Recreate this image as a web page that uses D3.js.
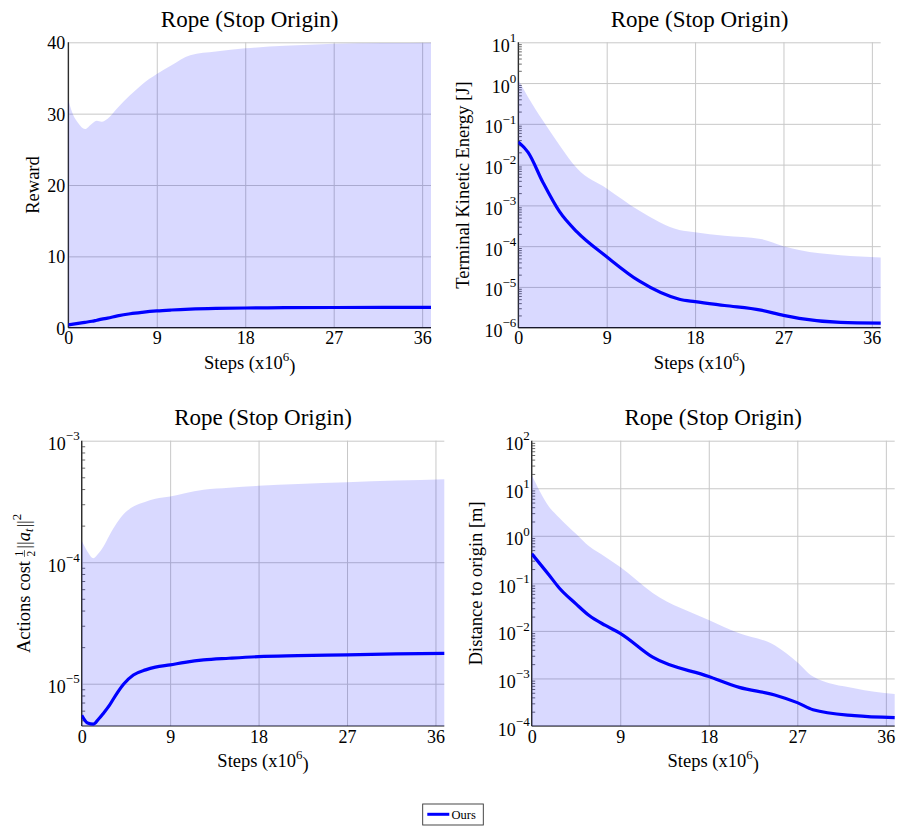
<!DOCTYPE html>
<html>
<head>
<meta charset="utf-8">
<script src="https://cdn.jsdelivr.net/npm/d3@7"></script>
<style>
  body { margin: 0; background: #fff; }
  svg { display: block; }
  text { font-family: "Liberation Serif", "Times New Roman", serif; fill: #000; }
</style>
</head>
<body>
<svg id="fig" width="899" height="828"></svg>
<script>
// ---- shared axis values ----
const xTicks = [0, 9, 18, 27, 36];
const xMax = 36.9;
const chartTitle = "Rope (Stop Origin)";
const seriesName = "Ours";

// ---- Reward ----
const rewardSteps = [0, 0.5, 1, 1.7, 2.4, 2.9, 3.4, 4, 5, 6.3, 7.5, 9, 10.5, 12.4, 15, 18, 22, 27, 32, 36.9];
const rewardMean  = [0.4, 0.5, 0.6, 0.75, 0.9, 1.05, 1.2, 1.35, 1.65, 1.95, 2.15, 2.35, 2.48, 2.6, 2.7, 2.76, 2.8, 2.83, 2.85, 2.86];
const rewardUpper = [31.9, 29.8, 28.7, 27.85, 28.6, 29.0, 28.87, 29.3, 30.8, 32.6, 34.1, 35.55, 36.8, 38.2, 38.7, 39.15, 39.5, 39.8, 39.9, 39.95];
const rewardLower = [0, 0, 0, 0, 0, 0, 0, 0, 0, 0, 0, 0, 0, 0, 0, 0, 0, 0, 0, 0];
const rewardTicks = [0, 10, 20, 30, 40];

// ---- Terminal kinetic energy ----
const keSteps = [0, 1, 2.5, 4.2, 6, 9, 12.3, 16.4, 18, 21, 24.7, 27, 28.6, 32.8, 36.9];
const keMean  = [0.036, 0.02, 0.0037, 7e-4, 2.2e-4, 5.5e-5, 1.4e-5, 5e-6, 4.35e-6, 3.5e-6, 2.7e-6, 2.0e-6, 1.7e-6, 1.35e-6, 1.3e-6];
const keUpper = [1.2, 0.45, 0.12, 0.03, 0.008, 0.0026, 7.5e-4, 2.5e-4, 2.2e-4, 1.8e-4, 1.5e-4, 1.0e-4, 8e-5, 6e-5, 5.3e-5];
const keLower = [1e-6, 1e-6, 1e-6, 1e-6, 1e-6, 1e-6, 1e-6, 1e-6, 1e-6, 1e-6, 1e-6, 1e-6, 1e-6, 1e-6, 1e-6];
const keTicks = [1e-6, 1e-5, 1e-4, 1e-3, 1e-2, 1e-1, 1e0, 1e1];

// ---- Actions cost ----
const acSteps = [0, 0.6, 1.18, 1.7, 2.2, 2.8, 3.57, 4.3, 5.26, 6.5, 7.5, 9, 10.5, 12.4, 15, 18, 22, 27, 32, 36.9];
const acMean  = [5.5e-6, 4.75e-6, 4.65e-6, 5.1e-6, 5.7e-6, 6.6e-6, 8.3e-6, 1.0e-5, 1.18e-5, 1.3e-5, 1.37e-5, 1.43e-5, 1.5e-5, 1.57e-5, 1.62e-5, 1.67e-5, 1.7e-5, 1.73e-5, 1.76e-5, 1.78e-5];
const acUpper = [1.5e-4, 1.22e-4, 1.08e-4, 1.18e-4, 1.34e-4, 1.65e-4, 2.1e-4, 2.5e-4, 2.87e-4, 3.15e-4, 3.33e-4, 3.47e-4, 3.7e-4, 3.94e-4, 4.1e-4, 4.25e-4, 4.4e-4, 4.55e-4, 4.7e-4, 4.82e-4];
const acLower = [4e-6, 4e-6, 4e-6, 4e-6, 4e-6, 4e-6, 4e-6, 4e-6, 4e-6, 4e-6, 4e-6, 4e-6, 4e-6, 4e-6, 4e-6, 4e-6, 4e-6, 4e-6, 4e-6, 4e-6];
const acTicks = [1e-5, 1e-4, 1e-3];

// ---- Distance to origin ----
const distSteps = [0, 1.76, 2.8, 4.5, 5.84, 7.5, 9, 12.3, 18, 21.1, 24.7, 27, 28.6, 32.8, 36.9];
const distMean  = [0.42, 0.15, 0.08, 0.037, 0.021, 0.013, 0.0089, 0.0028, 0.0011, 6.5e-4, 4.5e-4, 3.1e-4, 2.2e-4, 1.65e-4, 1.5e-4];
const distUpper = [19, 4.1, 2.4, 1.1, 0.6, 0.36, 0.22, 0.063, 0.017, 0.0089, 0.005, 0.0022, 0.0011, 6.2e-4, 4.7e-4];
const distLower = [1e-4, 1e-4, 1e-4, 1e-4, 1e-4, 1e-4, 1e-4, 1e-4, 1e-4, 1e-4, 1e-4, 1e-4, 1e-4, 1e-4, 1e-4];
const distTicks = [1e-4, 1e-3, 1e-2, 1e-1, 1e0, 1e1, 1e2];

const panels = [
  { steps: rewardSteps, mean: rewardMean, upper: rewardUpper, lower: rewardLower,
    log: false, yDomain: [0, 40], yTicks: rewardTicks, ylabel: "Reward",
    box: { l: 68.3, r: 431, t: 42.3, b: 327.7 }, ylabX: 33 },
  { steps: keSteps, mean: keMean, upper: keUpper, lower: keLower,
    log: true, yDomain: [1e-6, 1e1], yTicks: keTicks, ylabel: "Terminal Kinetic Energy [J]",
    box: { l: 518.3, r: 880.7, t: 42.3, b: 327.7 }, ylabX: 462.5 },
  { steps: acSteps, mean: acMean, upper: acUpper, lower: acLower,
    log: true, yDomain: [Math.pow(10, -5.348), 1e-3], yTicks: acTicks, ylabel: null,
    box: { l: 81.7, r: 444.3, t: 440.7, b: 726 }, ylabX: 23.5 },
  { steps: distSteps, mean: distMean, upper: distUpper, lower: distLower,
    log: true, yDomain: [1e-4, 1e2], yTicks: distTicks, ylabel: "Distance to origin [m]",
    box: { l: 531.7, r: 894.7, t: 440.7, b: 726 }, ylabX: 475.7 }
];

const svg = d3.select("#fig");
const BLUE = "#0000ff";
const BAND = "rgba(0,0,255,0.15)";
const GRID = "#c8c8c8";
const minus = "\u2212";
const TICK_FS = 18, LABEL_FS = 18.5, SUP_FS = 13;

panels.forEach((p, i) => {
  const b = p.box;
  const g = svg.append("g");
  const x = d3.scaleLinear().domain([0, xMax]).range([b.l, b.r]);
  const y = (p.log ? d3.scaleLog() : d3.scaleLinear()).domain(p.yDomain).range([b.b, b.t]);
  const h = b.b - b.t, w = b.r - b.l;
  const cx = (b.l + b.r) / 2;

  // grid
  g.append("g").attr("transform", `translate(0,${b.b})`)
    .call(d3.axisBottom(x).tickValues(xTicks).tickSize(-h).tickFormat(""))
    .call(s => { s.select(".domain").remove(); s.selectAll("line").attr("stroke", GRID); });
  g.append("g").attr("transform", `translate(${b.l},0)`)
    .call(d3.axisLeft(y).tickValues(p.yTicks).tickSize(-w).tickFormat(""))
    .call(s => { s.select(".domain").remove(); s.selectAll("line").attr("stroke", GRID); });

  // axis lines (left + bottom)
  g.append("line").attr("x1", b.l).attr("x2", b.l).attr("y1", b.t).attr("y2", b.b)
    .attr("stroke", "#1a1a1a").attr("stroke-width", 1.2);
  g.append("line").attr("x1", b.l).attr("x2", b.r).attr("y1", b.b).attr("y2", b.b)
    .attr("stroke", "#1a1a1a").attr("stroke-width", 1.2);

  // minor ticks on log axes
  if (p.log) {
    const lo = Math.floor(Math.log10(p.yDomain[0]));
    const hi = Math.ceil(Math.log10(p.yDomain[1]));
    const minors = [];
    for (let d = lo; d < hi; d++) for (let k = 2; k <= 9; k++) {
      const v = k * Math.pow(10, d);
      if (v > p.yDomain[0] && v < p.yDomain[1]) minors.push(v);
    }
    g.append("g").attr("transform", `translate(${b.l},0)`)
      .call(d3.axisRight(y).tickValues(minors).tickSize(3.5).tickFormat(""))
      .call(s => { s.select(".domain").remove(); s.selectAll("line").attr("stroke", "#444").attr("stroke-width", 0.8); });
  }

  // clip region
  const cid = "clip" + i;
  svg.append("clipPath").attr("id", cid).append("rect")
    .attr("x", b.l).attr("y", b.t - 1).attr("width", w + 1).attr("height", h + 1);

  const rows = p.steps.map((s, k) => ({ s, m: p.mean[k], hi: p.upper[k], lo: p.lower[k] }));

  // band
  g.append("path").datum(rows)
    .attr("clip-path", `url(#${cid})`)
    .attr("fill", BAND)
    .attr("d", d3.area().x(d => x(d.s)).y0(d => y(d.lo)).y1(d => y(d.hi)).curve(d3.curveMonotoneX));

  // mean curve
  g.append("path").datum(rows)
    .attr("clip-path", `url(#${cid})`)
    .attr("fill", "none").attr("stroke", BLUE).attr("stroke-width", 3.2)
    .attr("stroke-linejoin", "round")
    .attr("d", d3.line().x(d => x(d.s)).y(d => y(d.m)).curve(d3.curveMonotoneX));

  // x tick labels
  g.append("g").attr("transform", `translate(0,${b.b})`)
    .call(d3.axisBottom(x).tickValues(xTicks).tickSize(0).tickPadding(0).tickFormat(d3.format("d")))
    .call(s => {
      s.select(".domain").remove();
      s.selectAll("text").attr("font-size", TICK_FS).attr("dy", null).attr("y", 16.5)
        .attr("font-family", "Liberation Serif, serif").attr("fill", "#000");
    });

  // y tick labels
  const yax = g.append("g").attr("transform", `translate(${b.l},0)`)
    .call(d3.axisLeft(y).tickValues(p.yTicks).tickSize(0).tickPadding(p.log ? 2 : 3).tickFormat(""));
  yax.select(".domain").remove();
  yax.selectAll("text").each(function (v) {
    const t = d3.select(this).attr("font-size", TICK_FS).attr("font-family", "Liberation Serif, serif")
      .attr("fill", "#000").text(null);
    if (p.log) {
      const e = Math.round(Math.log10(v));
      t.attr("dy", "0.5em");
      t.append("tspan").text("10");
      t.append("tspan").attr("font-size", SUP_FS).attr("dy", "-0.75em")
        .text(e < 0 ? minus + Math.abs(e) : String(e));
    } else {
      t.attr("dy", "0.36em").text(String(v));
    }
  });

  // title
  g.append("text").attr("x", cx).attr("y", b.t - 15.5).attr("text-anchor", "middle")
    .attr("font-size", 23).text(chartTitle);

  // x label
  const xl = g.append("text").attr("x", cx).attr("y", b.b + 41).attr("text-anchor", "middle")
    .attr("font-size", LABEL_FS);
  xl.append("tspan").text("Steps (x10");
  xl.append("tspan").attr("font-size", SUP_FS).attr("dy", "-0.6em").text("6");
  xl.append("tspan").attr("dy", "0.6em").text(")");

  // y label
  const cy = (b.t + b.b) / 2;
  if (p.ylabel) {
    g.append("text").attr("transform", `translate(${p.ylabX + 6},${cy}) rotate(-90)`)
      .attr("text-anchor", "middle").attr("font-size", LABEL_FS).text(p.ylabel);
  } else {
    // composite label: Actions cost ½||a_t||²
    const lg = g.append("g");
    let cur = 0;
    const put = (txt, size, dy, italic) => {
      const t = lg.append("text").attr("x", cur).attr("y", dy).attr("font-size", size)
        .attr("font-style", italic ? "italic" : null).text(txt);
      const len = t.node().getComputedTextLength();
      return { t, len };
    };
    let r = put("Actions cost\u00a0", LABEL_FS, 0); cur += r.len;
    const n = put("1", 11.5, -7); const dn = put("2", 11.5, 5);
    const fw = Math.max(n.len, dn.len);
    lg.append("line").attr("x1", cur - 0.5).attr("x2", cur + fw + 0.5).attr("y1", -5).attr("y2", -5)
      .attr("stroke", "#000").attr("stroke-width", 0.6);
    cur += fw + 2;
    r = put("||", LABEL_FS, 0); cur += r.len;
    r = put("a", LABEL_FS, 0, true); cur += r.len;
    r = put("t", 12, 3, true); cur += r.len + 1;
    r = put("||", LABEL_FS, 0); cur += r.len;
    r = put("2", SUP_FS, -8.5); cur += r.len;
    lg.attr("transform", `translate(${p.ylabX + 6},${cy}) rotate(-90) translate(${-cur / 2},0)`);
  }
});

// legend
const leg = svg.append("g");
leg.append("rect").attr("x", 422.7).attr("y", 804).attr("width", 60.6).attr("height", 21)
  .attr("fill", "#fff").attr("stroke", "#333").attr("stroke-width", 0.9);
leg.append("line").attr("x1", 427.3).attr("x2", 449.3).attr("y1", 814.3).attr("y2", 814.3)
  .attr("stroke", BLUE).attr("stroke-width", 3);
leg.append("text").attr("x", 451.5).attr("y", 818.6).attr("font-size", 12.5).text(seriesName);
</script>
</body>
</html>
